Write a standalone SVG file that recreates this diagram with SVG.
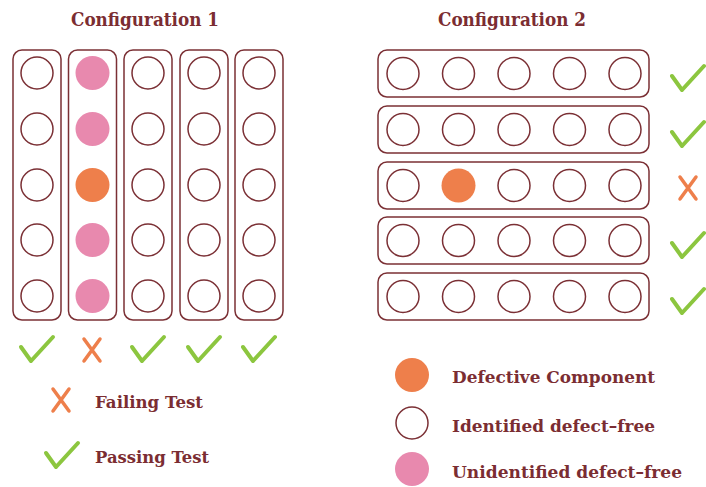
<svg xmlns="http://www.w3.org/2000/svg" width="706" height="487" viewBox="0 0 706 487">
<style>
.box{fill:none;stroke:#7B3035;stroke-width:1.5}
.c{fill:#fff;stroke:#7B3035;stroke-width:1.5}
.def{fill:#EE7F4B}
.pink{fill:#E889AE}
.ok{fill:none;stroke:#8CC63F;stroke-width:4;stroke-linecap:round;stroke-linejoin:round}
.ko{fill:none;stroke:#EE7F4B;stroke-width:3.5;stroke-linecap:round}
text{font-family:"DejaVu Serif","Liberation Serif",serif;font-weight:bold;fill:#7B2D32}
.t{font-size:19px}
.l{font-size:16px}
</style>
<defs>
<path id="chk" d="M-16,-2 L-6,12 L16,-12"/>
<path id="ex" d="M-8,-11 L8,11 M8,-11 L-8,11"/>
</defs>
<text class="t" x="145" y="26" text-anchor="middle" textLength="148" lengthAdjust="spacingAndGlyphs">Configuration 1</text>
<text class="t" x="512" y="26" text-anchor="middle" textLength="148" lengthAdjust="spacingAndGlyphs">Configuration 2</text>

<g id="config1">
<g id="col1"><rect class="box" x="13" y="50" width="48" height="270" rx="9"/>
<circle class="c" cx="37" cy="73" r="16"/><circle class="c" cx="37" cy="129" r="16"/><circle class="c" cx="37" cy="185" r="16"/><circle class="c" cx="37" cy="240" r="16"/><circle class="c" cx="37" cy="296" r="16"/></g>
<g id="col2"><rect class="box" x="68.5" y="50" width="48" height="270" rx="9"/>
<circle class="pink" cx="92.5" cy="73" r="17"/><circle class="pink" cx="92.5" cy="129" r="17"/><circle class="def" cx="92.5" cy="185" r="17"/><circle class="pink" cx="92.5" cy="240" r="17"/><circle class="pink" cx="92.5" cy="296" r="17"/></g>
<g id="col3"><rect class="box" x="124" y="50" width="48" height="270" rx="9"/>
<circle class="c" cx="148" cy="73" r="16"/><circle class="c" cx="148" cy="129" r="16"/><circle class="c" cx="148" cy="185" r="16"/><circle class="c" cx="148" cy="240" r="16"/><circle class="c" cx="148" cy="296" r="16"/></g>
<g id="col4"><rect class="box" x="180" y="50" width="48" height="270" rx="9"/>
<circle class="c" cx="204" cy="73" r="16"/><circle class="c" cx="204" cy="129" r="16"/><circle class="c" cx="204" cy="185" r="16"/><circle class="c" cx="204" cy="240" r="16"/><circle class="c" cx="204" cy="296" r="16"/></g>
<g id="col5"><rect class="box" x="235" y="50" width="48" height="270" rx="9"/>
<circle class="c" cx="259" cy="73" r="16"/><circle class="c" cx="259" cy="129" r="16"/><circle class="c" cx="259" cy="185" r="16"/><circle class="c" cx="259" cy="240" r="16"/><circle class="c" cx="259" cy="296" r="16"/></g>
<use href="#chk" class="ok" x="37" y="349"/>
<use href="#ex" class="ko" x="92" y="350"/>
<use href="#chk" class="ok" x="148" y="349"/>
<use href="#chk" class="ok" x="204" y="349"/>
<use href="#chk" class="ok" x="259" y="349"/>
</g>

<g id="config2">
<g id="row1"><rect class="box" x="378" y="50" width="271" height="47" rx="9"/>
<circle class="c" cx="403" cy="73.5" r="16"/><circle class="c" cx="458.5" cy="73.5" r="16"/><circle class="c" cx="514" cy="73.5" r="16"/><circle class="c" cx="569.5" cy="73.5" r="16"/><circle class="c" cx="625" cy="73.5" r="16"/></g>
<g id="row2"><rect class="box" x="378" y="106" width="271" height="47" rx="9"/>
<circle class="c" cx="403" cy="129.5" r="16"/><circle class="c" cx="458.5" cy="129.5" r="16"/><circle class="c" cx="514" cy="129.5" r="16"/><circle class="c" cx="569.5" cy="129.5" r="16"/><circle class="c" cx="625" cy="129.5" r="16"/></g>
<g id="row3"><rect class="box" x="378" y="162" width="271" height="47" rx="9"/>
<circle class="c" cx="403" cy="185.5" r="16"/><circle class="def" cx="458.5" cy="185.5" r="17"/><circle class="c" cx="514" cy="185.5" r="16"/><circle class="c" cx="569.5" cy="185.5" r="16"/><circle class="c" cx="625" cy="185.5" r="16"/></g>
<g id="row4"><rect class="box" x="378" y="217" width="271" height="47" rx="9"/>
<circle class="c" cx="403" cy="240.5" r="16"/><circle class="c" cx="458.5" cy="240.5" r="16"/><circle class="c" cx="514" cy="240.5" r="16"/><circle class="c" cx="569.5" cy="240.5" r="16"/><circle class="c" cx="625" cy="240.5" r="16"/></g>
<g id="row5"><rect class="box" x="378" y="273" width="271" height="47" rx="9"/>
<circle class="c" cx="403" cy="296.5" r="16"/><circle class="c" cx="458.5" cy="296.5" r="16"/><circle class="c" cx="514" cy="296.5" r="16"/><circle class="c" cx="569.5" cy="296.5" r="16"/><circle class="c" cx="625" cy="296.5" r="16"/></g>
<use href="#chk" class="ok" x="688" y="78"/>
<use href="#chk" class="ok" x="688" y="134"/>
<use href="#ex" class="ko" x="688" y="188"/>
<use href="#chk" class="ok" x="688" y="245"/>
<use href="#chk" class="ok" x="688" y="301"/>
</g>

<g id="legend">
<use href="#ex" class="ko" x="61" y="400"/>
<text class="l" x="95" y="408" textLength="108" lengthAdjust="spacingAndGlyphs">Failing Test</text>
<use href="#chk" class="ok" x="62" y="455"/>
<text class="l" x="95" y="463" textLength="114" lengthAdjust="spacingAndGlyphs">Passing Test</text>
<circle class="def" cx="412" cy="375" r="17"/>
<text class="l" x="452" y="383" textLength="203" lengthAdjust="spacingAndGlyphs">Defective Component</text>
<circle class="c" cx="412" cy="423" r="16"/>
<text class="l" x="452" y="432" textLength="203" lengthAdjust="spacingAndGlyphs">Identified defect–free</text>
<circle class="pink" cx="412" cy="469" r="17"/>
<text class="l" x="452" y="478" textLength="230" lengthAdjust="spacingAndGlyphs">Unidentified defect–free</text>
</g>
</svg>
